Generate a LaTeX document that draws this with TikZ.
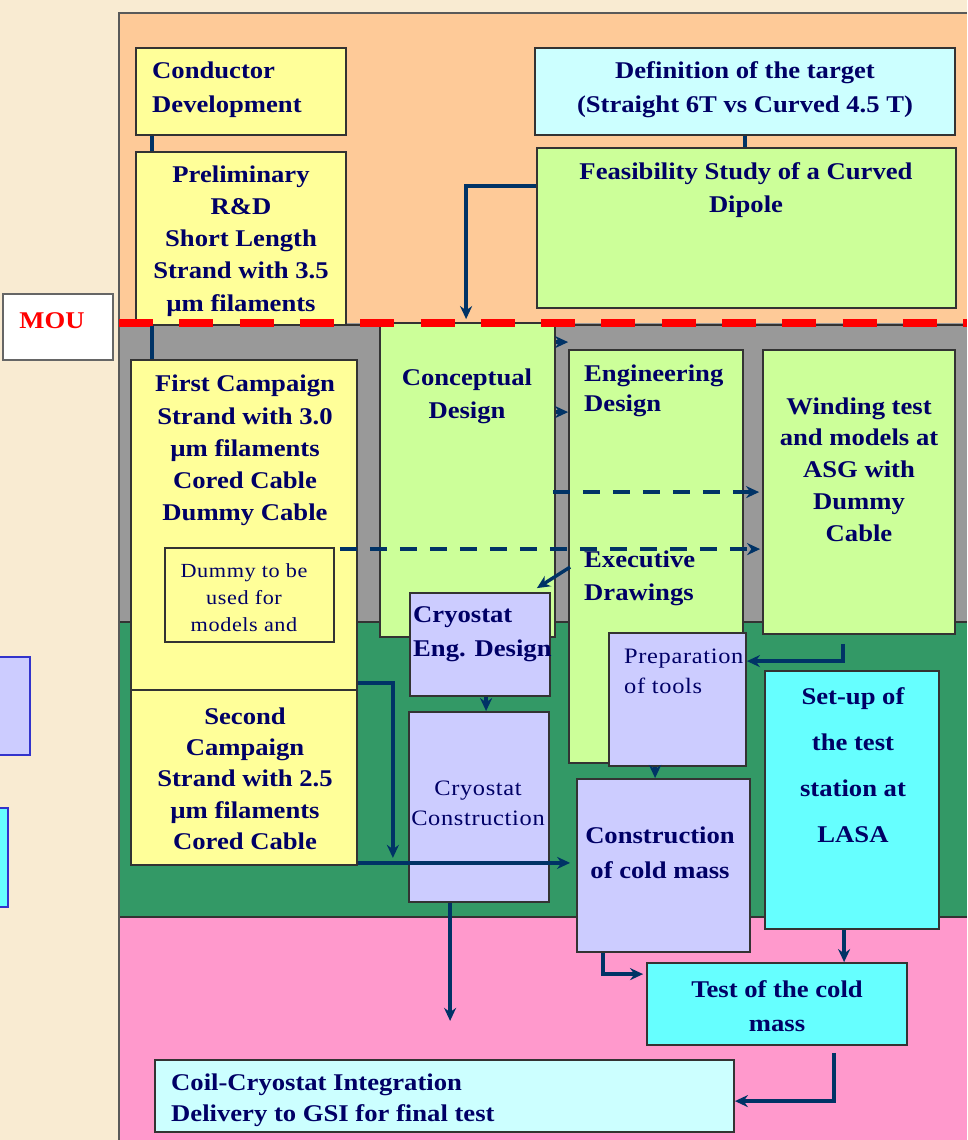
\documentclass[tikz,border=0pt]{standalone}
\usepackage{fontspec}
\setmainfont{Liberation Serif}[FakeStretch=1.11]
\newfontfamily\widefont{Liberation Serif}[FakeStretch=1.11,LetterSpace=3]
\usetikzlibrary{calc,fit,arrows.meta}
\definecolor{parch}{HTML}{F9EBD2}
\definecolor{bandO}{HTML}{FECA98}
\definecolor{bandGy}{HTML}{999999}
\definecolor{bandGn}{HTML}{339966}
\definecolor{bandP}{HTML}{FF99CC}
\definecolor{yel}{HTML}{FFFF99}
\definecolor{lgreen}{HTML}{CCFF99}
\definecolor{lcyan}{HTML}{CCFFFF}
\definecolor{lav}{HTML}{CCCCFF}
\definecolor{cyanB}{HTML}{66FFFF}
\definecolor{navyT}{HTML}{000066}
\definecolor{arrc}{HTML}{003366}
\definecolor{boxline}{HTML}{333333}
\definecolor{blueline}{HTML}{3333CC}
\newcommand\myBF[2]{\bfseries\fontsize{#1}{#2}\selectfont}
\newcommand\myRM[2]{\widefont\fontsize{#1}{#2}\selectfont}
\begin{document}
\begin{tikzpicture}[x=1pt,y=-1pt,
  box/.style={draw=boxline, line width=1.8pt, inner sep=0pt, rectangle},
  pbox/.style={draw=blueline, line width=2pt, inner sep=0pt, rectangle},
  tb/.style={inner sep=0pt, text=navyT, align=center, yshift=-3pt},
  conn/.style={draw=arrc, line width=3.4pt},
  arr/.style={draw=arrc, line width=3.4pt, -{Stealth[length=13pt,width=12pt]}},
  darr/.style={draw=arrc, line width=4pt, dash pattern=on 17pt off 13pt, -{Stealth[length=13pt,width=12pt]}}]
\useasboundingbox (0,0) rectangle (967,1140);
\fill[parch] (0,0) rectangle (967,1140);
% bands
\fill[bandO] (119,13) rectangle (967,323);
\fill[bandGy] (119,323) rectangle (967,622);
\fill[bandGn] (119,622) rectangle (967,917);
\fill[bandP] (119,917) rectangle (967,1140);
\draw[boxline, line width=1.2pt] (119,622) -- (967,622);
\draw[boxline, line width=1.2pt] (119,917) -- (967,917);
\draw[boxline, line width=1.2pt] (119,325) -- (967,325);
\draw[black!65, line width=2pt] (119,1140) -- (119,13) -- (967,13);
% boxes
\node[box, fill=yel, fit={(136,48) (346,135)}] (cond) {};
\node[box, fill=yel, fit={(136,152) (346,325)}] (prel) {};
\node[box, fill=lcyan, fit={(535,48) (955,135)}] (defn) {};
\node[box, fill=lgreen, fit={(537,148) (956,308)}] (feas) {};
\node[box, fill=lgreen, fit={(380,323) (555,637)}] (conc) {};
\node[box, fill=lgreen, fit={(569,350) (743,763)}] (eng) {};
\node[box, fill=lgreen, fit={(763,350) (955,634)}] (wind) {};
\node[box, fill=yel, fit={(131,360) (357,690)}] (first) {};
\node[box, fill=yel, fit={(165,548) (334,642)}] (dummy) {};
\node[box, fill=yel, fit={(131,690) (357,865)}] (second) {};
\node[box, fill=lav, fit={(410,593) (550,696)}] (cryoE) {};
\node[box, fill=lav, fit={(409,712) (549,902)}] (cryoC) {};
\node[box, fill=lav, fit={(609,633) (746,766)}] (prep) {};
\node[box, fill=lav, fit={(577,779) (750,952)}] (cold) {};
\node[box, fill=cyanB, fit={(765,671) (939,929)}] (setup) {};
\node[box, fill=cyanB, fit={(647,963) (907,1045)}] (test) {};
\node[box, fill=lcyan, fit={(155,1060) (734,1132)}] (coil) {};
\node[draw=black!60, line width=1.5pt, fill=white, inner sep=0pt, fit={(3,294) (113,360)}] (mou) {};
\node[pbox, fill=lav, fit={(-10,657) (30,755)}] (partA) {};
\node[pbox, fill=cyanB, fit={(-10,808) (8,907)}] (partB) {};
% texts
\node[tb, anchor=west, align=left, font=\myBF{24}{34}] (condT) at (152,87) {Conductor\\Development};
\node[tb, font=\myBF{24}{32.2}] (prelT) at (241,238) {Preliminary\\R\&D\\Short Length\\Strand with 3.5\\µm filaments};
\node[tb, font=\myBF{24}{34}] (defnT) at (745,87) {Definition of the target\\(Straight 6T vs Curved 4.5 T)};
\node[tb, font=\myBF{24}{33}] (feasT) at (746,187.5) {Feasibility Study of a Curved\\Dipole};
\node[tb, font=\myBF{24}{33}] (concT) at (467,393.5) {Conceptual\\Design};
\node[tb, anchor=west, align=left, font=\myBF{24}{30}] (engT) at (584,388) {Engineering\\Design};
\node[tb, anchor=west, align=left, font=\myBF{24}{33}] (exeT) at (584,575.5) {Executive\\Drawings};
\node[tb, font=\myBF{24}{31.8}] (windT) at (859,466.5) {Winding test\\and models at\\ASG with\\Dummy\\Cable};
\node[tb, font=\myBF{24}{32.2}] (firstT) at (245,447.5) {First Campaign\\Strand with 3.0\\µm filaments\\Cored Cable\\Dummy Cable};
\node[tb, font=\myRM{20}{27}] (dummyT) at (244,595) {Dummy to be\\used for\\models and};
\node[tb, font=\myBF{24}{31.3}] (secondT) at (245,775.5) {Second\\Campaign\\Strand with 2.5\\µm filaments\\Cored Cable};
\node[tb, anchor=west, align=left, font=\myBF{24}{34}] (cryoET) at (413,631) {Cryostat\\Eng. Design};
\node[tb, font=\myRM{22}{30}] (cryoCT) at (478,800) {Cryostat\\Construction};
\node[tb, anchor=west, align=left, font=\myRM{22}{30}] (prepT) at (624,668) {Preparation\\of tools};
\node[tb, font=\myBF{24}{35}] (coldT) at (660,849.5) {Construction\\of cold mass};
\node[tb, font=\myBF{24}{46}] (setupT) at (853,762.5) {Set-up of\\the test\\station at\\LASA};
\node[tb, font=\myBF{24}{34}] (testT) at (777,1003) {Test of the cold\\mass};
\node[tb, anchor=west, align=left, font=\myBF{24}{31}] (coilT) at (171,1097.5) {Coil-Cryostat Integration\\Delivery to GSI for final test};
\node[inner sep=0pt, text=red, font=\myBF{24}{28}, yshift=-2pt] (mouT) at (52,319) {MOU};
% MOU red dashed line
\draw[red, line width=8pt, dash pattern=on 34pt off 26.3pt] (119,323) -- (967,323);
% connector end points
\coordinate (c1) at ($(cond.south west)+(17,0)$);
\coordinate (c2) at ($(prel.south west)+(17,0)$);
\coordinate (fa) at ($(feas.north west)+(0,39)$);
\coordinate (ca) at ($(conc.north east)+(0,20)$);
\coordinate (cb) at ($(conc.north east)+(0,90)$);
\coordinate (cc) at ($(conc.north east)+(-3,170)$);
\coordinate (da) at ($(dummy.north east)+(5,2)$);
\coordinate (s2) at ($(second.south east)+(0,-3)$);
\coordinate (f1) at ($(first.south east)+(0,-8)$);
\coordinate (ce) at ($(cryoE.south west)+(77,0)$);
\coordinate (cs) at ($(cryoC.south west)+(42,0)$);
\coordinate (cryoEnd) at ($(cs)+(0,118)$);
\coordinate (pa) at ($(prep.south west)+(47,0)$);
\coordinate (wa) at ($(wind.south west)+(81,9)$);
\coordinate (ka) at ($(cold.south west)+(27,0)$);
\coordinate (sa) at ($(setup.south west)+(80,0)$);
\coordinate (ta) at ($(test.south west)+(188,7)$);
% connectors
\draw[conn] (c1) -- (c1 |- prel.north);
\draw[conn] (c2) -- (c2 |- first.north);
\draw[conn] (defn.south) -- (defn.south |- feas.north);
\draw[arr] (fa) -| ($(conc.north west)+(87,-3)$);
\draw[arr] (ca) -- (ca -| eng.west);
\draw[arr] (cb) -- (cb -| eng.west);
\draw[darr] (cc) -- ($(cc -| wind.west)+(-3,0)$);
\draw[darr] (da) -- ($(da -| wind.west)+(-2,0)$);
\draw[arr] ($(eng.north west)+(2,218)$) -- ($(cryoE.north east)+(-14,-4)$);
\draw[arr] (ce) -- (ce |- cryoC.north);
\draw[arr] (f1) -| ($(second.south east)+(35,-8)$);
\draw[arr] (s2) -- ($(s2 -| cold.west)+(-6,0)$);
\draw[arr] (wa) |- ($(prep.north east)+(0,29)$);
\draw[arr] (pa) -- (pa |- cold.north);
\draw[arr] (cs) -- (cryoEnd);
\draw[arr] (ka) |- ($(test.north west)+(-3,12)$);
\draw[arr] (sa) -- (sa |- test.north);
\draw[arr] (ta) |- ($(coil.north east)+(0,42)$);
\end{tikzpicture}
\end{document}
